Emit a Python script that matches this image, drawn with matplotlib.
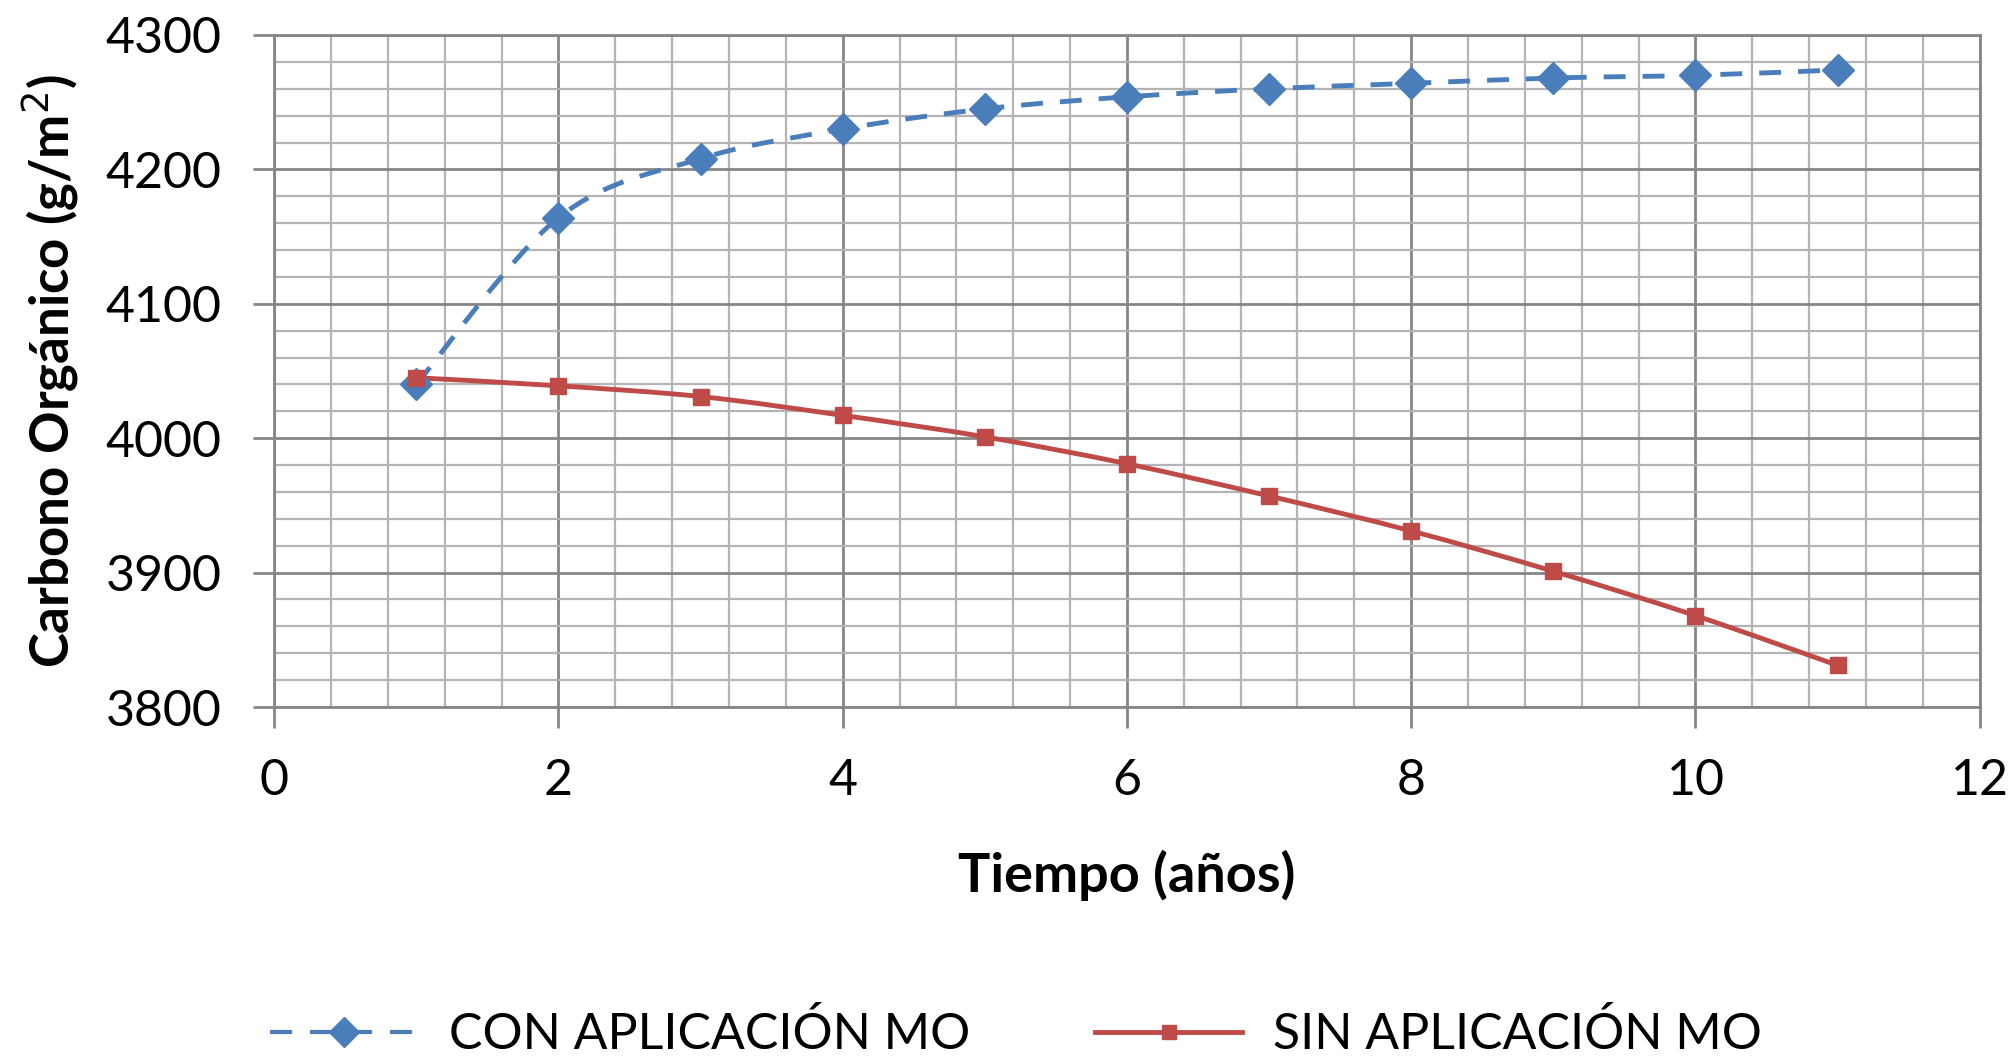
import matplotlib
matplotlib.use('Agg')
import matplotlib.pyplot as plt
from matplotlib.path import Path
from matplotlib.patches import PathPatch
from matplotlib.lines import Line2D
from matplotlib.ticker import MultipleLocator

plt.rcParams['font.family'] = ['Lato', 'DejaVu Sans']

# data
years = [1, 2, 3, 4, 5, 6, 7, 8, 9, 10, 11]
con_mo = [4040, 4164, 4208, 4230, 4245, 4254, 4260, 4264, 4268, 4270, 4274]
sin_mo = [4045, 4039, 4031, 4017, 4001, 3981, 3957, 3931, 3901, 3868, 3831]

labels = ['CON APLICACIÓN MO', 'SIN APLICACIÓN MO']
xlabel = 'Tiempo (años)'
ylabel = 'Carbono Orgánico (g/m$^{2}$)'

BLUE = '#4a7ebb'
RED = '#be4b48'
MAJOR = '#868686'
MINOR = '#b4b4b4'


def smooth_path(x, y):
    """Excel-style smoothed line: cubic bezier through every point."""
    n = len(x)
    verts = [(x[0], y[0])]
    codes = [Path.MOVETO]
    for i in range(n - 1):
        a = max(i - 1, 0)
        b = min(i + 2, n - 1)
        c1 = (x[i] + (x[i + 1] - x[a]) / 6, y[i] + (y[i + 1] - y[a]) / 6)
        c2 = (x[i + 1] - (x[b] - x[i]) / 6, y[i + 1] - (y[b] - y[i]) / 6)
        verts += [c1, c2, (x[i + 1], y[i + 1])]
        codes += [Path.CURVE4] * 3
    return Path(verts, codes)


fig = plt.figure(figsize=(20.16, 10.6), dpi=100)
ax = fig.add_axes([0.136, 0.333, 0.846, 0.634])

ax.add_patch(PathPatch(smooth_path(years, con_mo), fill=False, edgecolor=BLUE,
                       lw=3.5, linestyle=(0, (4.5, 3.5)), zorder=3))
ax.add_patch(PathPatch(smooth_path(years, sin_mo), fill=False, edgecolor=RED,
                       lw=3.5, zorder=3))
ax.plot(years, con_mo, ls='none', marker='D', ms=16, color=BLUE, zorder=4)
ax.plot(years, sin_mo, ls='none', marker='s', ms=11, color=RED, zorder=5)

ax.set_xlim(0, 12)
ax.set_ylim(3800, 4300)
ax.xaxis.set_major_locator(MultipleLocator(2))
ax.xaxis.set_minor_locator(MultipleLocator(0.4))
ax.yaxis.set_major_locator(MultipleLocator(100))
ax.yaxis.set_minor_locator(MultipleLocator(20))

ax.grid(which='major', color=MAJOR, lw=2.0, zorder=1)
ax.grid(which='minor', color=MINOR, lw=1.6, zorder=0)
ax.set_axisbelow(True)
for s in ax.spines.values():
    s.set_color(MAJOR)
    s.set_linewidth(2.0)

ax.tick_params(which='major', direction='out', length=15, width=2, color=MAJOR,
               labelsize=36, labelcolor='black')
ax.tick_params(axis='x', which='major', pad=22)
ax.tick_params(axis='y', which='major', pad=23)
ax.tick_params(which='minor', length=0)

ax.set_xlabel(xlabel, fontsize=39, fontweight='bold', va='center')
ax.xaxis.set_label_coords(0.5, -0.25)
ax.set_ylabel(ylabel, fontsize=38, fontweight='bold', va='center')
ax.yaxis.set_label_coords(-0.1315, 0.5)

handles = [
    Line2D([], [], color=BLUE, lw=3.0, dashes=(5.3, 4.3), marker='D', ms=15),
    Line2D([], [], color=RED, lw=3.5, marker='s', ms=10),
]
fig.legend(handles, labels, loc='center', bbox_to_anchor=(0.504, 0.024),
           ncol=2, frameon=False, fontsize=36, handlelength=2.95,
           handletextpad=0.62, columnspacing=2.5)

fig.savefig('out.png', dpi=100)
